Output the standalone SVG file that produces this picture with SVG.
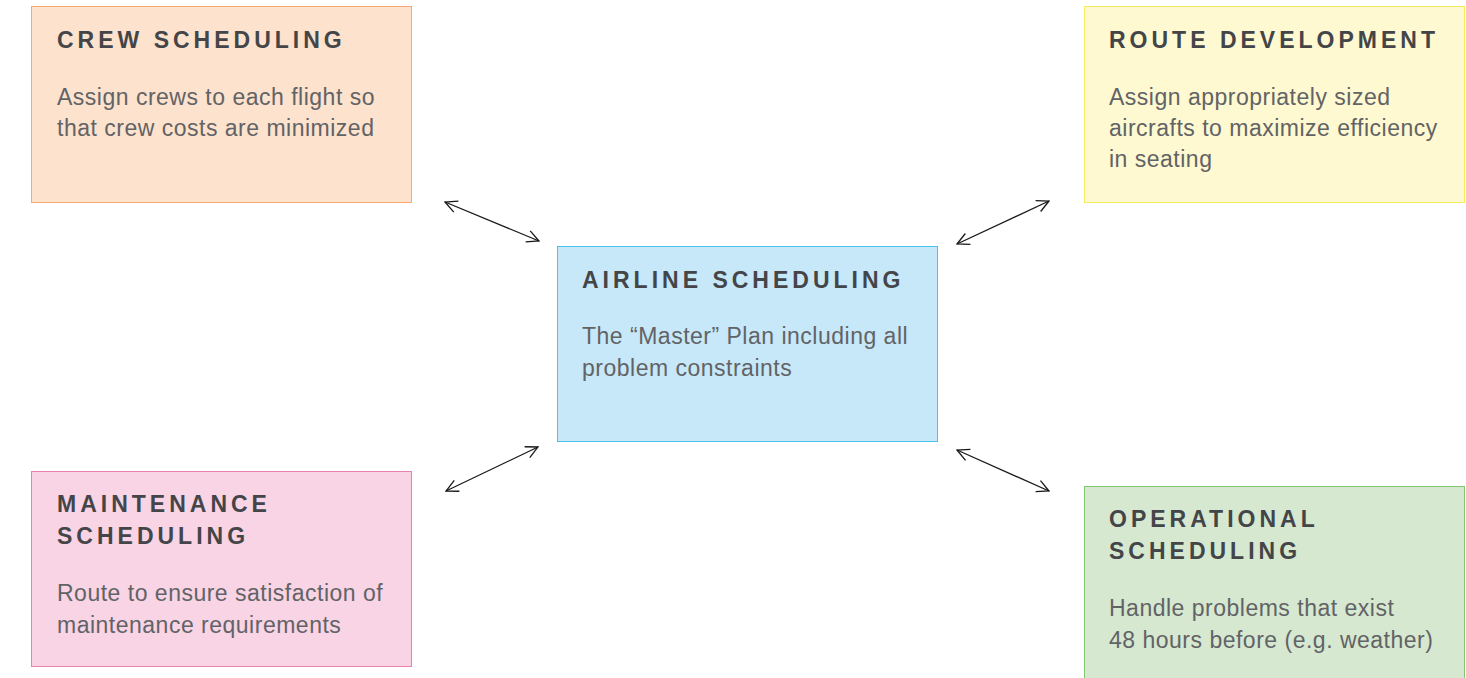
<svg xmlns="http://www.w3.org/2000/svg" width="1466" height="678" viewBox="0 0 1466 678">
<style>
.t{font-family:"Liberation Sans",Arial,sans-serif;font-weight:bold;font-size:23px;letter-spacing:4px;fill:#444548}
.b{font-family:"Liberation Sans",Arial,sans-serif;font-size:23px;letter-spacing:0.5px;fill:#626366}
.c{fill:none;stroke:#1a1a1a;stroke-width:1.3}
</style>
<defs>
<marker id="ah" viewBox="0 0 14 14" refX="13" refY="7" markerWidth="14" markerHeight="14" markerUnits="userSpaceOnUse" orient="auto-start-reverse">
<path d="M1,1 L13,7 L1,13" fill="none" stroke="#1a1a1a" stroke-width="1.3"/>
</marker>
</defs>
<rect width="1466" height="678" fill="#ffffff"/>
<g id="crew">
<rect x="31.5" y="6.5" width="380" height="196" fill="#fde2cd" stroke="#f5a870"/>
<text class="t" x="57" y="48">CREW SCHEDULING</text>
<text class="b" x="57" y="105">Assign crews to each flight so</text>
<text class="b" x="57" y="136">that crew costs are minimized</text>
</g>
<g id="route">
<rect x="1084.5" y="6.5" width="380" height="196" fill="#fef9d0" stroke="#f6ea5e"/>
<text class="t" x="1109" y="48">ROUTE DEVELOPMENT</text>
<text class="b" x="1109" y="105">Assign appropriately sized</text>
<text class="b" x="1109" y="136">aircrafts to maximize efficiency</text>
<text class="b" x="1109" y="167">in seating</text>
</g>
<g id="airline">
<rect x="557.5" y="246.5" width="380" height="195" fill="#c7e8f8" stroke="#4dc1ea"/>
<text class="t" x="582" y="288">AIRLINE SCHEDULING</text>
<text class="b" x="582" y="344">The “Master” Plan including all</text>
<text class="b" x="582" y="376">problem constraints</text>
</g>
<g id="maintenance">
<rect x="31.5" y="471.5" width="380" height="195" fill="#f8d4e5" stroke="#e781b0"/>
<text class="t" x="57" y="512">MAINTENANCE</text>
<text class="t" x="57" y="544">SCHEDULING</text>
<text class="b" x="57" y="601">Route to ensure satisfaction of</text>
<text class="b" x="57" y="633">maintenance requirements</text>
</g>
<g id="operational">
<rect x="1084.5" y="486.5" width="380" height="200" fill="#d6e8d0" stroke="#80c96e"/>
<text class="t" x="1109" y="527">OPERATIONAL</text>
<text class="t" x="1109" y="559">SCHEDULING</text>
<text class="b" x="1109" y="616">Handle problems that exist</text>
<text class="b" x="1109" y="648">48 hours before (e.g. weather)</text>
</g>
<g id="connectors">
<line class="c" x1="445" y1="202" x2="539" y2="241" marker-start="url(#ah)" marker-end="url(#ah)"/>
<line class="c" x1="1049" y1="201" x2="957" y2="244" marker-start="url(#ah)" marker-end="url(#ah)"/>
<line class="c" x1="446" y1="491" x2="538" y2="447" marker-start="url(#ah)" marker-end="url(#ah)"/>
<line class="c" x1="957" y1="450" x2="1049" y2="491" marker-start="url(#ah)" marker-end="url(#ah)"/>
</g>
</svg>
